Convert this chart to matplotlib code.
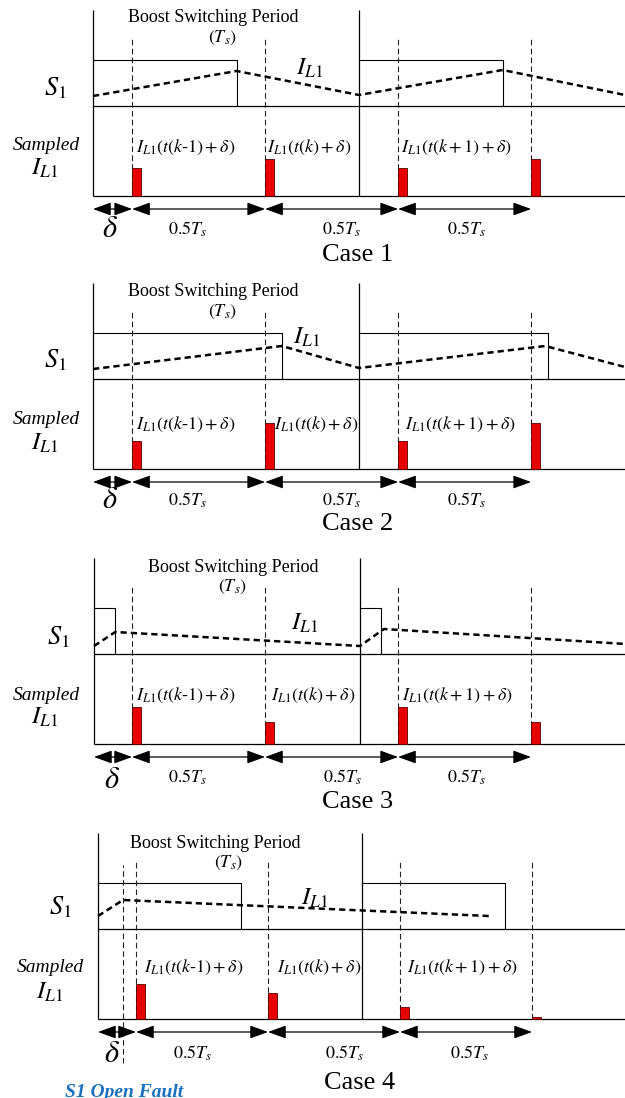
import matplotlib.pyplot as plt

plt.rcParams["font.family"] = ["Liberation Serif", "DejaVu Serif"]
plt.rcParams["mathtext.fontset"] = "stix"

W, H = 625, 1098

# time is in units of Ts, levels are measured upward from the sampled-current baseline
case_names = ["Case 1", "Case 2", "Case 3", "Case 4"]
duty = [0.54, 0.71, 0.08, 0.54]
delta = [0.147, 0.147, 0.143, 0.144]
fault_t = [None, None, None, 0.095]
s1_high = 136
s1_low = 90

il_t = [
    [0, 0.54, 1.0, 1.54, 2.0],
    [0, 0.71, 1.0, 1.70, 2.0],
    [0, 0.08, 1.0, 1.09, 2.0],
    [0, 0.095, 1.48],
]
il_y = [
    [100, 125, 101, 126, 101],
    [100, 123, 101, 123, 102],
    [98, 112, 98, 115, 100],
    [103, 119, 103],
]
sampled = [
    [28, 37, 28, 37],
    [28, 46, 28, 46],
    [37, 22, 37, 22],
    [35, 26, 12, 2.5],
]

sample_labels = [r"$I_{L1}(t(k$-$1)+\delta)$", r"$I_{L1}(t(k)+\delta)$", r"$I_{L1}(t(k+1)+\delta)$"]

# layout in pixels: baseline row, left edge and Ts width for every case
base_px = [196, 469, 744, 1019]
left_px = [93, 93, 94, 98]
ts_px = [266, 266, 266, 264]

# text positions, y relative to the baseline
boost_xy = [(213, -178), (213, -177), (233, -177), (215, -176)]
tsl_xy = [(222, -158), (222, -157), (232, -157), (228, -156)]
il_lab_xy = [(310, -128), (307, -132), (305, -121), (315, -121)]
s1_xy = [(55, -108), (55, -109), (58, -107), (60, -112)]
samp_xy = [(46, -51), (46, -49), (46, -49), (50, -51)]
ilrow_xy = [(45, -28), (45, -26), (45, -27), (50, -27)]
lab_x = [[136, 267, 401], [136, 274, 405], [136, 271, 402], [144, 277, 407]]
lab_dy = [-49, -45, -49, -52]
delta_xy = [(110, 34), (110, 31), (112, 36), (112, 36)]
half_x = [[188, 342, 467], [188, 342, 467], [188, 343, 467], [193, 345, 470]]
half_dy = [33, 31, 33, 34]
case_xy = [(358, 59), (358, 55), (358, 58), (360, 64)]

fig = plt.figure(figsize=(W / 100, H / 100), dpi=100)


def px_text(x, y, s, **kw):
    kw.setdefault("ha", "center")
    kw.setdefault("va", "center")
    fig.text(x / W, 1 - y / H, s, **kw)


for i, name in enumerate(case_names):
    base = base_px[i]
    ts = ts_px[i]
    left = left_px[i]
    ax = fig.add_axes([0, 1 - (base + 79) / H, 1, 275 / H])
    xmax = (W - left) / ts
    ax.set_xlim(-left / ts, xmax)
    ax.set_ylim(-79, 196)
    ax.axis("off")

    ax.vlines([0, 1], 0, 186, color="black", lw=0.9)
    ax.hlines([0, s1_low], 0, xmax, color="black", lw=0.9)

    for k in (0, 1):
        ax.plot([k, k + duty[i], k + duty[i]], [s1_high, s1_high, s1_low], color="black", lw=0.8)

    ax.plot(il_t[i], il_y[i], color="black", lw=1.8, ls=(0, (2.5, 1.6)))

    t_samp = [delta[i] + 0.5 * k for k in range(4)]
    ax.vlines(t_samp, 0, 157, color="#222222", lw=0.8, ls=(0, (5, 3)))
    if fault_t[i] is not None:
        ax.vlines(fault_t[i], -44, 154, color="#222222", lw=0.8, ls=(0, (5, 3)))
    ax.bar(t_samp, sampled[i], width=9 / ts, align="edge", color="#e60000",
           edgecolor="#5a0000", lw=0.6, zorder=3)

    ends = [0] + [delta[i] + 0.5 * k for k in range(4)]
    for a, b in zip(ends[:-1], ends[1:]):
        ax.annotate("", xy=(b, -13), xytext=(a, -13),
                    arrowprops=dict(arrowstyle="<|-|>,head_length=1.1,head_width=0.4",
                                    color="black", lw=0.9, shrinkA=0, shrinkB=0,
                                    mutation_scale=10))

    px_text(boost_xy[i][0], base + boost_xy[i][1], "Boost Switching Period", fontsize=13)
    px_text(tsl_xy[i][0], base + tsl_xy[i][1], r"$(T_s)$", fontsize=13)
    px_text(il_lab_xy[i][0], base + il_lab_xy[i][1], r"$I_{L1}$", fontsize=18)
    px_text(s1_xy[i][0], base + s1_xy[i][1], r"$S_1$", fontsize=19)
    px_text(samp_xy[i][0], base + samp_xy[i][1], "Sampled", fontsize=14, fontstyle="italic")
    px_text(ilrow_xy[i][0], base + ilrow_xy[i][1], r"$I_{L1}$", fontsize=18)
    for x, s in zip(lab_x[i], sample_labels):
        px_text(x, base + lab_dy[i], s, fontsize=13, ha="left")
    px_text(delta_xy[i][0], base + delta_xy[i][1], r"$\delta$", fontsize=22)
    for x in half_x[i]:
        px_text(x, base + half_dy[i], r"$0.5T_s$", fontsize=13)
    px_text(case_xy[i][0], base + case_xy[i][1], name, fontsize=19)

px_text(65, 1084, "S1 Open Fault", fontsize=14, fontweight="bold", fontstyle="italic",
        color="#1a6fc0", ha="left", va="top")

fig.savefig("out.png", dpi=100)
